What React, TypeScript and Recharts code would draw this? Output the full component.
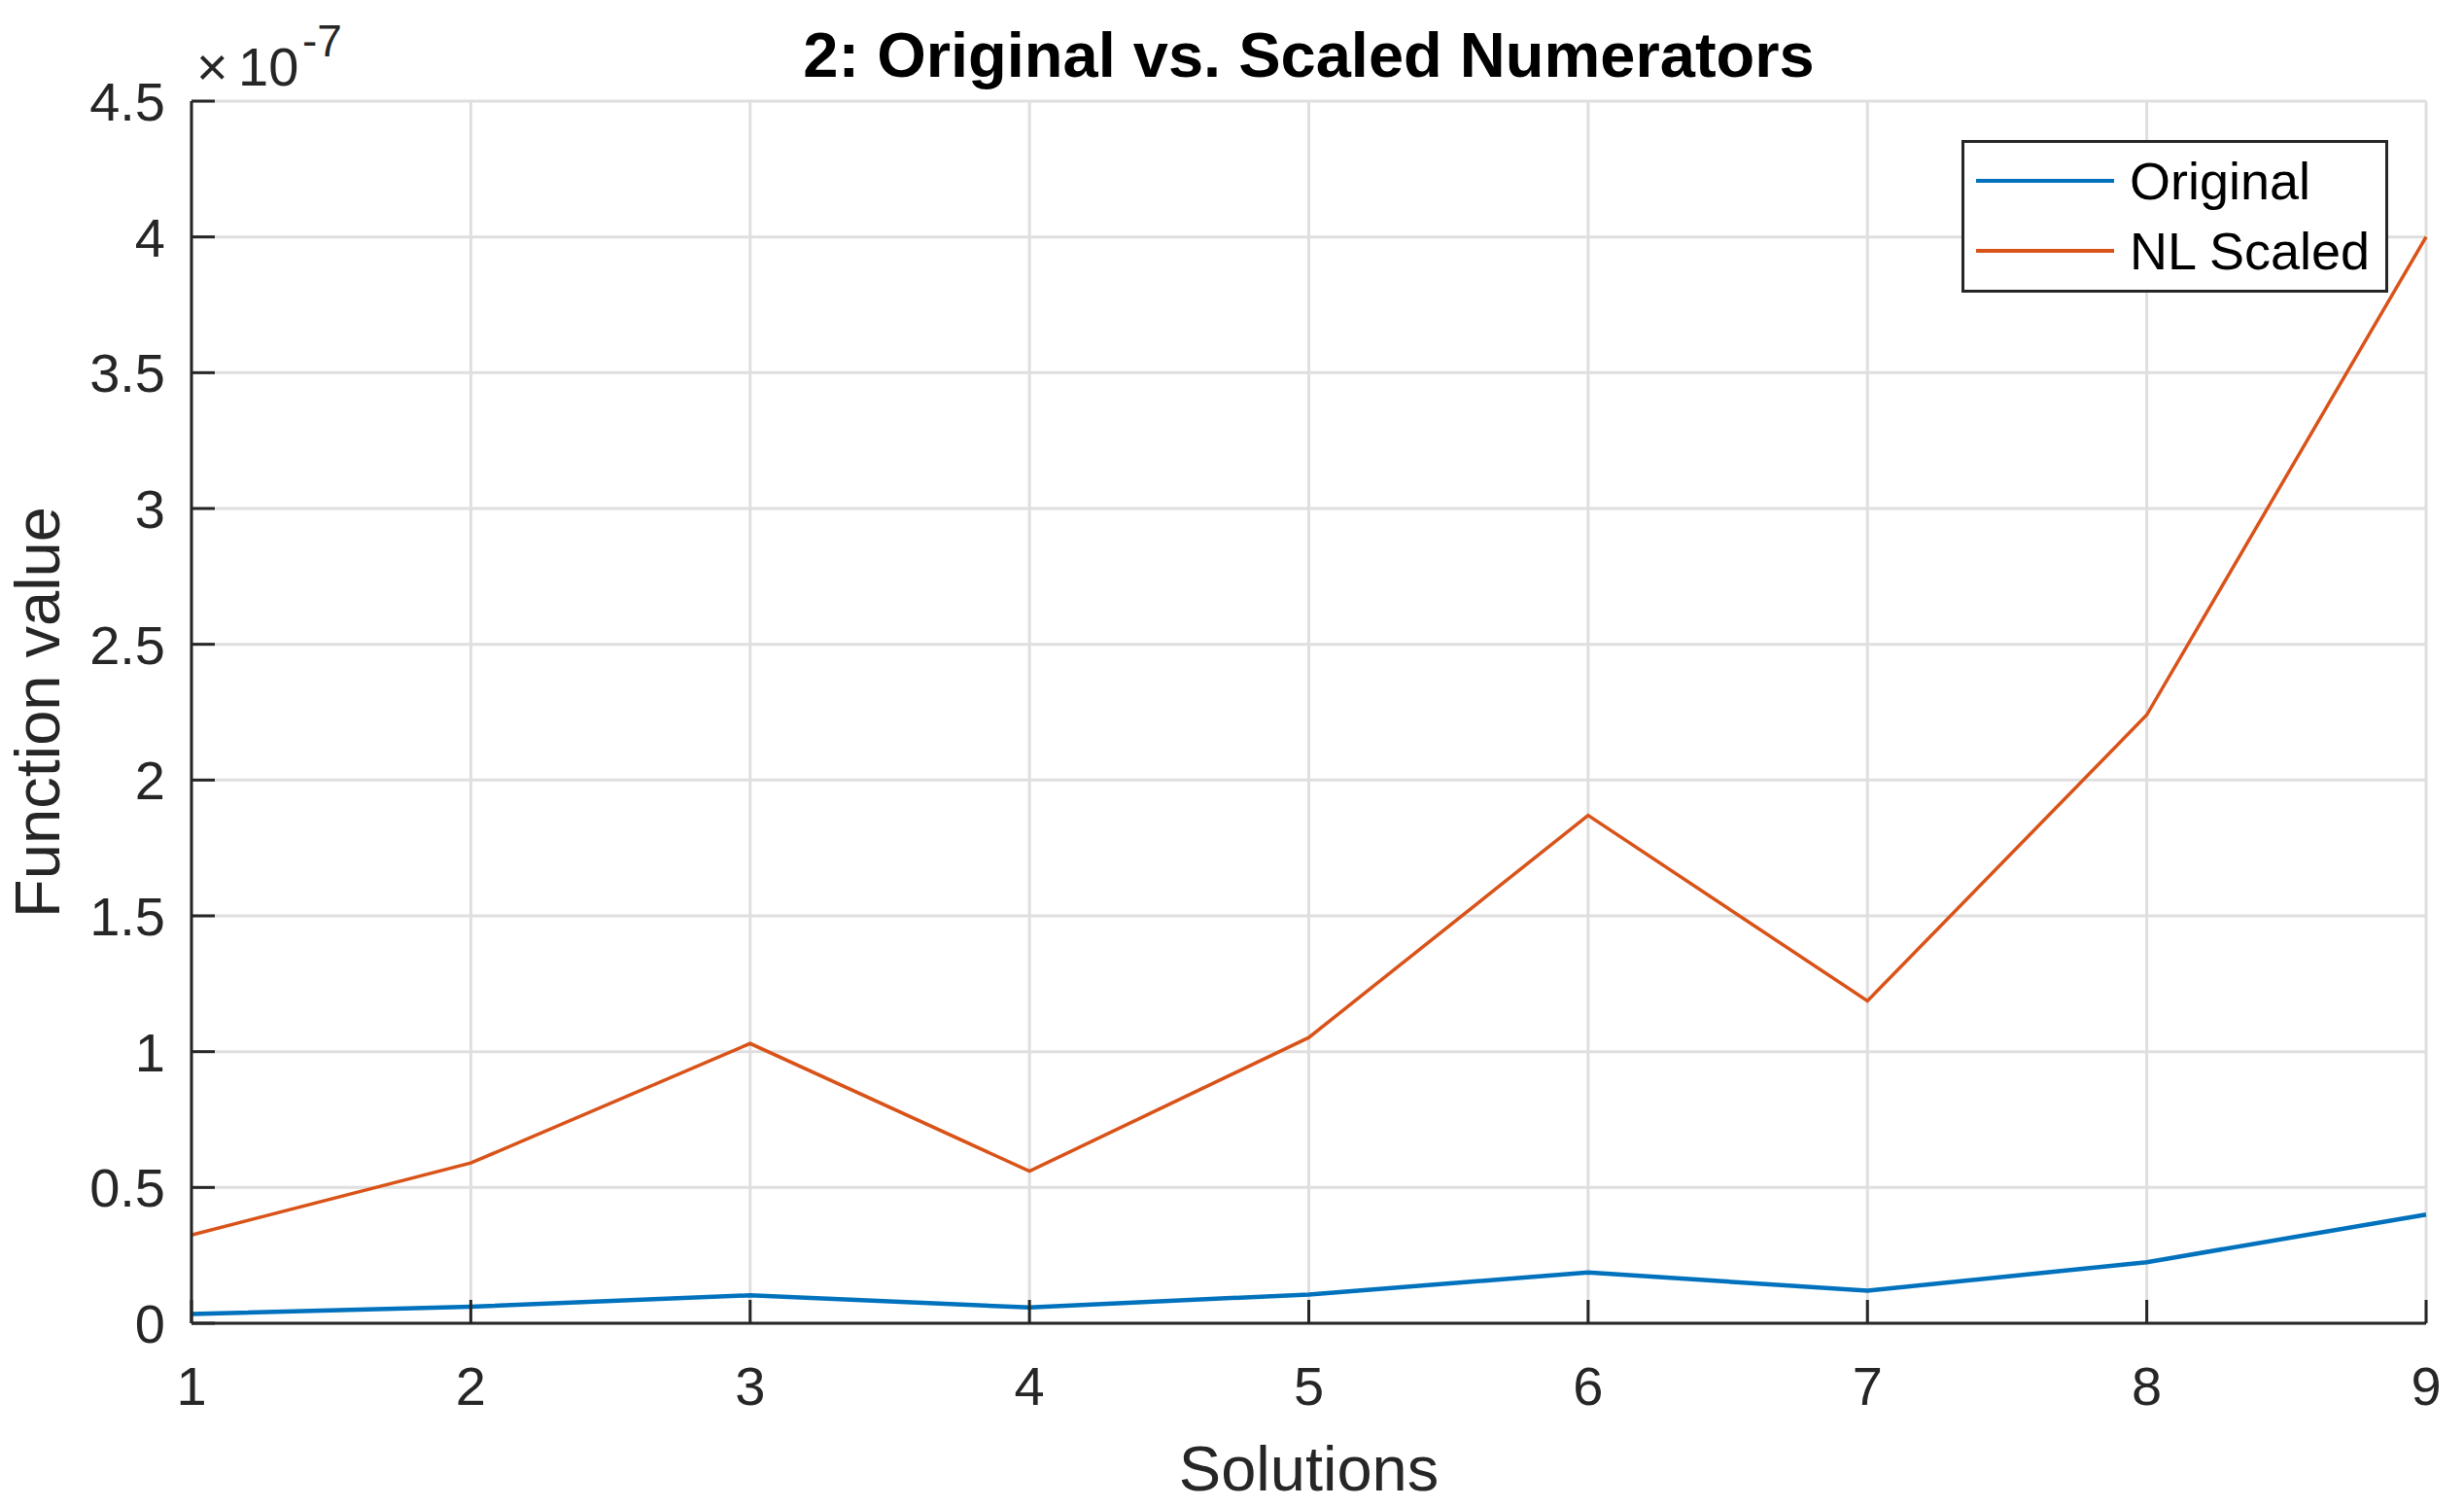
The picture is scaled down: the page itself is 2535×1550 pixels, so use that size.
import React from "react";
import {
  CartesianGrid,
  Legend,
  Line,
  LineChart,
  XAxis,
  YAxis,
} from "recharts";

// values are in units of 1e-7 (the axis shows the x10^-7 multiplier)
const solutions = [1, 2, 3, 4, 5, 6, 7, 8, 9];
const originalValues = [0.034, 0.061, 0.103, 0.058, 0.106, 0.187, 0.12, 0.225, 0.4];
const nlScaledValues = [0.325, 0.59, 1.03, 0.56, 1.052, 1.87, 1.187, 2.24, 4.0];
const xTicks = [1, 2, 3, 4, 5, 6, 7, 8, 9];
const yTicks = [0, 0.5, 1, 1.5, 2, 2.5, 3, 3.5, 4, 4.5];
const exponent = "-7";

const FONT = '"Liberation Sans", Arial, Helvetica, sans-serif';
const AXIS = "#262626";
const GRID = "#dfdfdf";
const BLUE = "#0072BD";
const ORANGE = "#D95319";

const series = [
  { key: "original", name: "Original", color: BLUE, width: 4.5 },
  { key: "scaled", name: "NL Scaled", color: ORANGE, width: 3.5 },
];

const data = solutions.map((s, i) => ({
  x: s,
  original: originalValues[i],
  scaled: nlScaledValues[i],
}));

// boxed legend in the top-right corner, MATLAB style
function MatlabLegend() {
  return (
    <div
      style={{
        boxSizing: "border-box",
        width: 439,
        height: 157,
        border: `3px solid ${AXIS}`,
        background: "#fff",
        paddingTop: 3,
        fontFamily: FONT,
        fontSize: 54,
        color: "#000",
      }}
    >
      {series.map((s) => (
        <div
          key={s.key}
          style={{ display: "flex", alignItems: "center", height: 72, lineHeight: "72px" }}
        >
          <div style={{ width: 142, height: 4, marginLeft: 12, background: s.color }} />
          <span style={{ marginLeft: 16, whiteSpace: "nowrap" }}>{s.name}</span>
        </div>
      ))}
    </div>
  );
}

export default function App() {
  return (
    <div
      style={{
        position: "absolute",
        left: 0,
        top: 0,
        width: 2535,
        height: 1550,
        background: "#fff",
        fontFamily: FONT,
      }}
    >
      <div
        style={{
          position: "absolute",
          left: 197,
          width: 2299,
          top: 24,
          textAlign: "center",
          fontSize: 65,
          lineHeight: 1,
          fontWeight: "bold",
          color: "#000",
          whiteSpace: "nowrap",
        }}
      >
        2: Original vs. Scaled Numerators
      </div>
      {/* x10^-7 multiplier above the y axis */}
      <div style={{ position: "absolute", left: 0, top: 0, color: AXIS, lineHeight: 1 }}>
        <span style={{ position: "absolute", left: 202, top: 88 - 47, fontSize: 56 }}>×</span>
        <span style={{ position: "absolute", left: 245, top: 88 - 47, fontSize: 56 }}>10</span>
        <span style={{ position: "absolute", left: 311, top: 58 - 39, fontSize: 46 }}>{exponent}</span>
      </div>
      <LineChart
        width={2535}
        height={1550}
        data={data}
        margin={{ top: 104, right: 39, bottom: 0, left: 0 }}
      >
        <CartesianGrid stroke={GRID} strokeWidth={3} />
        <XAxis
          dataKey="x"
          type="number"
          domain={[1, 9]}
          ticks={xTicks}
          interval={0}
          height={189}
          tickSize={-24}
          tickMargin={68}
          axisLine={{ stroke: AXIS, strokeWidth: 3 }}
          tickLine={{ stroke: AXIS, strokeWidth: 3 }}
          tick={{ fill: AXIS, fontSize: 56, fontFamily: FONT }}
          label={{
            value: "Solutions",
            position: "insideBottom",
            offset: 17,
            fill: AXIS,
            fontSize: 65,
            fontFamily: FONT,
          }}
        />
        <YAxis
          type="number"
          domain={[0, 4.5]}
          ticks={yTicks}
          interval={0}
          width={197}
          tickSize={-24}
          tickMargin={51}
          axisLine={{ stroke: AXIS, strokeWidth: 3 }}
          tickLine={{ stroke: AXIS, strokeWidth: 3 }}
          tick={{ fill: AXIS, fontSize: 56, fontFamily: FONT }}
          label={{
            value: "Function value",
            angle: -90,
            position: "insideLeft",
            offset: 38,
            fill: AXIS,
            fontSize: 65,
            fontFamily: FONT,
            style: { textAnchor: "middle" },
          }}
        />
        <Legend
          layout="horizontal"
          verticalAlign="middle"
          align="center"
          wrapperStyle={{ left: 2018, top: 144, width: 439, height: 157 }}
          content={() => <MatlabLegend />}
        />
        {series.map((s) => (
          <Line
            key={s.key}
            type="linear"
            dataKey={s.key}
            name={s.name}
            stroke={s.color}
            strokeWidth={s.width}
            dot={false}
            isAnimationActive={false}
          />
        ))}
      </LineChart>
    </div>
  );
}
